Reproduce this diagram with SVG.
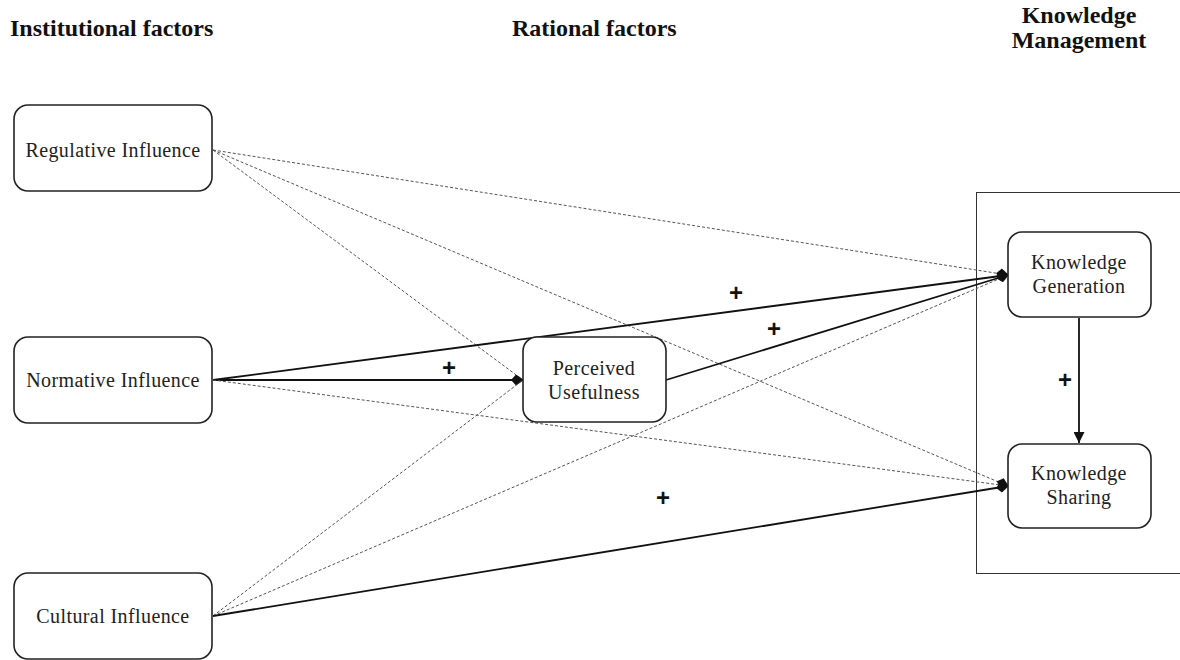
<svg xmlns="http://www.w3.org/2000/svg" width="1180" height="660" viewBox="0 0 1180 660">
  <style>
    .title { font-family: "Liberation Serif", "DejaVu Serif", serif; font-weight: bold; font-size: 24px; fill: #111; }
    .box { fill: #fff; stroke: #222; stroke-width: 1.6; }
    .lbl { font-family: "Liberation Serif", "DejaVu Serif", serif; font-size: 20px; letter-spacing: 0.4px; fill: #222; text-anchor: middle; }
    .solid { fill: none; stroke: #111; stroke-width: 1.8; }
    .dash { fill: none; stroke: #555; stroke-width: 1; stroke-dasharray: 3 2; }
    .plus { font-family: "Liberation Sans", Arial, sans-serif; font-weight: bold; font-size: 24px; fill: #111; text-anchor: middle; }
  </style>
  <defs>
    <marker id="kite" viewBox="0 0 13 11" refX="12" refY="5.5" markerWidth="13" markerHeight="11" markerUnits="userSpaceOnUse" orient="auto">
      <path d="M0,5.5 L5,0 L13,5.5 L5,11 Z" fill="#111"/>
    </marker>
    <marker id="tri" viewBox="0 0 10 10" refX="10" refY="5" markerWidth="11" markerHeight="11" markerUnits="userSpaceOnUse" orient="auto">
      <path d="M0,0 L10,5 L0,10 Z" fill="#111"/>
    </marker>
  </defs>

  <rect width="1180" height="660" fill="#fff"/>

  <!-- column headings -->
  <text class="title" x="10" y="36">Institutional factors</text>
  <text class="title" x="512" y="36">Rational factors</text>
  <text class="title" x="1079" y="23" text-anchor="middle">Knowledge</text>
  <text class="title" x="1079" y="48" text-anchor="middle">Management</text>

  <!-- knowledge management frame -->
  <rect x="976.500" y="192.500" width="210" height="381" fill="none" stroke="#333" stroke-width="1"/>

  <g id="connectors">
    <!-- Regulative influence paths -->
    <line class="dash" x1="213" y1="150" x2="1008" y2="275" marker-end="url(#kite)"/>
    <line class="dash" x1="213" y1="150" x2="523" y2="380"/>
    <line class="dash" x1="213" y1="150" x2="1008" y2="486" marker-end="url(#kite)"/>
    <!-- Normative influence paths -->
    <line class="solid" x1="213" y1="380" x2="1008" y2="275" marker-end="url(#kite)"/>
    <line class="solid" x1="213" y1="380" x2="523" y2="380" marker-end="url(#kite)"/>
    <line class="dash" x1="213" y1="380" x2="1008" y2="486"/>
    <!-- Cultural influence paths -->
    <line class="dash" x1="213" y1="616" x2="523" y2="380"/>
    <line class="dash" x1="213" y1="616" x2="1008" y2="275"/>
    <line class="solid" x1="213" y1="616" x2="1008" y2="486" marker-end="url(#kite)"/>
    <!-- Perceived usefulness to generation -->
    <line class="solid" x1="666" y1="380" x2="1008" y2="275" marker-end="url(#kite)"/>
    <!-- generation to sharing -->
    <line class="solid" stroke-width="1.4" x1="1079" y1="318" x2="1079" y2="443" marker-end="url(#tri)"/>

    <text class="plus" x="449" y="376">+</text>
    <text class="plus" x="736" y="301">+</text>
    <text class="plus" x="774" y="337">+</text>
    <text class="plus" x="663" y="506">+</text>
    <text class="plus" x="1065" y="388">+</text>
  </g>

  <g id="regulative">
    <rect class="box" x="14" y="105" width="198" height="86" rx="14"/>
    <text class="lbl" x="113" y="157">Regulative Influence</text>
  </g>
  <g id="normative">
    <rect class="box" x="14" y="337" width="198" height="86" rx="14"/>
    <text class="lbl" x="113" y="387">Normative Influence</text>
  </g>
  <g id="cultural">
    <rect class="box" x="14" y="573" width="198" height="86" rx="14"/>
    <text class="lbl" x="113" y="623">Cultural Influence</text>
  </g>
  <g id="perceived-usefulness">
    <rect class="box" x="523" y="337" width="143" height="85" rx="14"/>
    <text class="lbl" x="594" y="375">Perceived</text>
    <text class="lbl" x="594" y="399">Usefulness</text>
  </g>
  <g id="knowledge-generation">
    <rect class="box" x="1008" y="232" width="143" height="85" rx="14"/>
    <text class="lbl" x="1079" y="269">Knowledge</text>
    <text class="lbl" x="1079" y="293">Generation</text>
  </g>
  <g id="knowledge-sharing">
    <rect class="box" x="1008" y="444" width="143" height="84" rx="14"/>
    <text class="lbl" x="1079" y="480">Knowledge</text>
    <text class="lbl" x="1079" y="504">Sharing</text>
  </g>
</svg>
